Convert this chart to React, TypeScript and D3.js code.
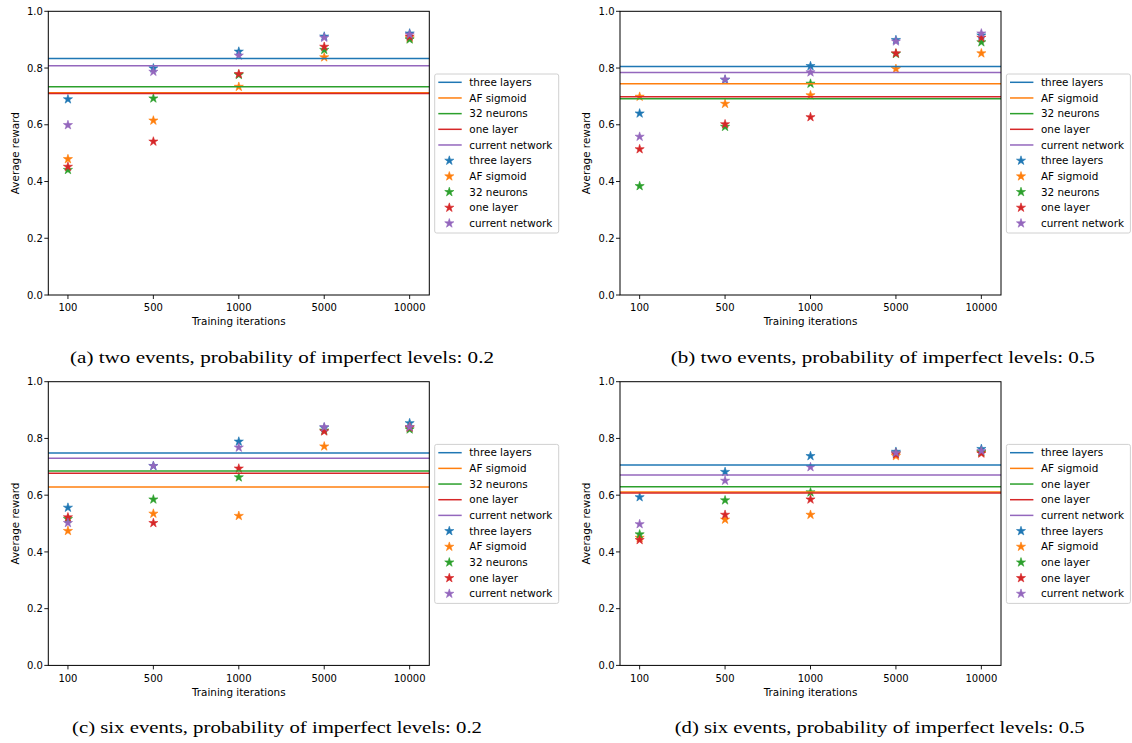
import React from "react";
import * as d3 from "d3";

const categories = ["100", "500", "1000", "5000", "10000"];
const yTicks = [0, 0.2, 0.4, 0.6, 0.8, 1.0];
const colors = ["#1f77b4", "#ff7f0e", "#2ca02c", "#d62728", "#9467bd"];

const labelsABC = ["three layers", "AF sigmoid", "32 neurons", "one layer", "current network"];
const labelsD = ["three layers", "AF sigmoid", "one layer", "one layer", "current network"];

const captions = [
  "(a) two events, probability of imperfect levels: 0.2",
  "(b) two events, probability of imperfect levels: 0.5",
  "(c) six events, probability of imperfect levels: 0.2",
  "(d) six events, probability of imperfect levels: 0.5",
];

// horizontal reference lines: [three layers, AF sigmoid, 32 neurons / one layer, one layer, current network]
const linesA = [0.834, 0.713, 0.734, 0.710, 0.808];
const linesB = [0.805, 0.745, 0.692, 0.699, 0.784];
const linesC = [0.749, 0.629, 0.685, 0.677, 0.730];
const linesD = [0.706, 0.611, 0.630, 0.608, 0.671];

// star points per series, one value per category
const pointsA = [
  [0.690, 0.799, 0.858, 0.911, 0.922],
  [0.479, 0.615, 0.734, 0.838, 0.905],
  [0.441, 0.693, 0.776, 0.864, 0.901],
  [0.452, 0.541, 0.779, 0.875, 0.911],
  [0.599, 0.787, 0.844, 0.907, 0.918],
];
const pointsB = [
  [0.640, 0.758, 0.807, 0.899, 0.915],
  [0.699, 0.674, 0.704, 0.797, 0.852],
  [0.384, 0.593, 0.745, 0.850, 0.891],
  [0.514, 0.602, 0.627, 0.852, 0.907],
  [0.558, 0.760, 0.785, 0.894, 0.922],
];
const pointsC = [
  [0.556, 0.703, 0.789, 0.838, 0.854],
  [0.474, 0.535, 0.527, 0.772, 0.840],
  [0.516, 0.585, 0.663, 0.828, 0.832],
  [0.522, 0.502, 0.694, 0.825, 0.838],
  [0.502, 0.703, 0.768, 0.840, 0.840],
];
const pointsD = [
  [0.593, 0.682, 0.738, 0.753, 0.763],
  [0.450, 0.514, 0.531, 0.738, 0.750],
  [0.462, 0.582, 0.610, 0.748, 0.752],
  [0.442, 0.531, 0.585, 0.744, 0.747],
  [0.498, 0.651, 0.699, 0.749, 0.756],
];

const panels = [
  { ox: 0, oy: 0, lines: linesA, points: pointsA, labels: labelsABC, caption: captions[0], capX: 70, capW: 424 },
  { ox: 571.7, oy: 0, lines: linesB, points: pointsB, labels: labelsABC, caption: captions[1], capX: 99, capW: 424 },
  { ox: 0, oy: 370.4, lines: linesC, points: pointsC, labels: labelsABC, caption: captions[2], capX: 72, capW: 410 },
  { ox: 571.7, oy: 370.4, lines: linesD, points: pointsD, labels: labelsD, caption: captions[3], capX: 103, capW: 410 },
];

const L = 48.3, R = 429.3, T = 11.3, B = 295;
const sans = "DejaVu Sans, sans-serif";
const star = d3.symbol().type(d3.symbolStar).size(26)();

function Panel({ p }: { p: typeof panels[number] }) {
  const x = d3.scaleLinear().domain([-0.23, 4.23]).range([L, R]);
  const y = d3.scaleLinear().domain([0, 1]).range([B, T]);
  const legX = 434.7, legY = 74, rowH = 15.67;
  const legendItems = [
    ...p.labels.map((l, i) => ({ l, i, kind: "line" })),
    ...p.labels.map((l, i) => ({ l, i, kind: "star" })),
  ];
  return (
    <g transform={`translate(${p.ox},${p.oy})`}>
      {p.points.map((ser, si) =>
        ser.map((v, ci) => (
          <path
            key={`p${si}-${ci}`}
            d={star!}
            transform={`translate(${x(ci)},${y(v)})`}
            fill={colors[si]}
            stroke={colors[si]}
            strokeWidth={0.6}
          />
        ))
      )}
      {p.lines.map((v, i) => (
        <line key={`l${i}`} x1={L} x2={R} y1={y(v)} y2={y(v)} stroke={colors[i]} strokeWidth={1.5} />
      ))}
      <rect x={L} y={T} width={R - L} height={B - T} fill="none" stroke="#000" strokeWidth={1} />
      {yTicks.map((t) => (
        <g key={`yt${t}`}>
          <line x1={L - 4} x2={L} y1={y(t)} y2={y(t)} stroke="#000" strokeWidth={0.9} />
          <text x={L - 5.5} y={y(t)} dy="0.36em" textAnchor="end" fontSize={10} fontFamily={sans} fill="#000">
            {t.toFixed(1)}
          </text>
        </g>
      ))}
      {categories.map((c, i) => (
        <g key={`xt${c}`}>
          <line x1={x(i)} x2={x(i)} y1={B} y2={B + 4} stroke="#000" strokeWidth={0.9} />
          <text x={x(i)} y={B + 12.7} dy="0.36em" textAnchor="middle" fontSize={10} fontFamily={sans} fill="#000">
            {c}
          </text>
        </g>
      ))}
      <text x={(L + R) / 2} y={321.7} dy="0.36em" textAnchor="middle" fontSize={10.4} fontFamily={sans} fill="#000">
        Training iterations
      </text>
      <text
        transform={`translate(15,${(T + B) / 2}) rotate(-90)`}
        dy="0.36em"
        textAnchor="middle"
        fontSize={10.4}
        fontFamily={sans}
        fill="#000"
      >
        Average reward
      </text>
      <rect x={legX} y={legY} width={124} height={159} rx={2} fill="#fff" fillOpacity={0.8} stroke="#d0d0d0" strokeWidth={1} />
      {legendItems.map((it, k) => {
        const cy = legY + 8.3 + k * rowH;
        return (
          <g key={`lg${k}`}>
            {it.kind === "line" ? (
              <line x1={legX + 3.6} x2={legX + 27} y1={cy} y2={cy} stroke={colors[it.i]} strokeWidth={1.5} />
            ) : (
              <path d={star!} transform={`translate(${legX + 14.6},${cy})`} fill={colors[it.i]} stroke={colors[it.i]} strokeWidth={0.6} />
            )}
            <text x={legX + 34.6} y={cy} dy="0.36em" fontSize={10.4} fontFamily={sans} fill="#000">
              {it.l}
            </text>
          </g>
        );
      })}
      <text
        x={p.capX}
        y={357}
        dy="0.34em"
        textLength={p.capW}
        lengthAdjust="spacingAndGlyphs"
        fontSize={16.5}
        fontFamily="Liberation Serif, DejaVu Serif, serif"
        fill="#000"
      >
        {p.caption}
      </text>
    </g>
  );
}

export default function App() {
  return (
    <svg width={1132} height={743} style={{ position: "absolute", left: 0, top: 0, background: "#fff" }}>
      <rect width={1132} height={743} fill="#fff" />
      {panels.map((p, i) => (
        <Panel key={i} p={p} />
      ))}
    </svg>
  );
}
